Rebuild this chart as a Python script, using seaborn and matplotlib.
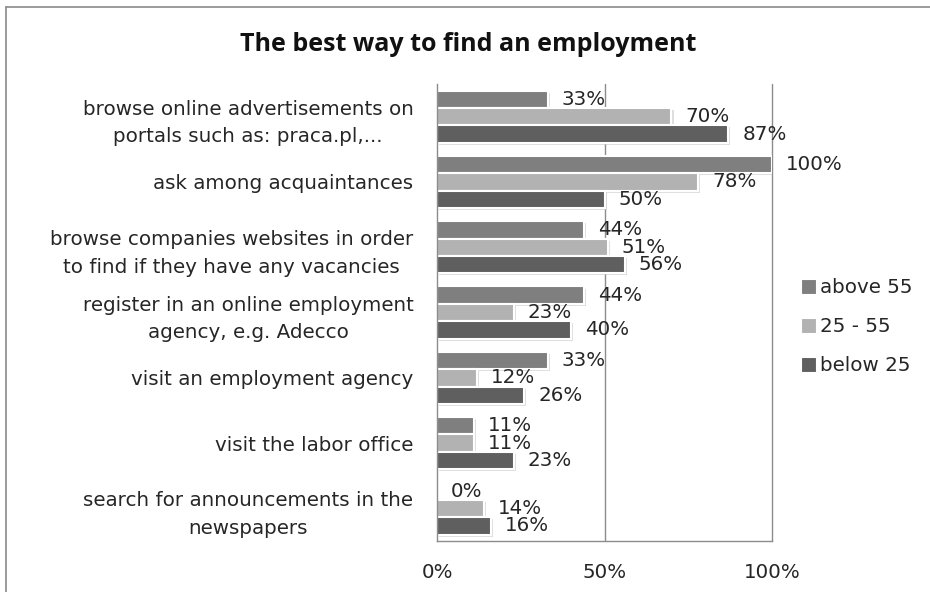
import matplotlib
matplotlib.use("Agg")
import matplotlib.pyplot as plt
import matplotlib.patheffects as pe
from matplotlib.lines import Line2D
from matplotlib.patches import Patch
import seaborn as sns
import pandas as pd

categories = [
    "browse online advertisements on\nportals such as: praca.pl,...",
    "ask among acquaintances",
    "browse companies websites in order\nto find if they have any vacancies",
    "register in an online employment\nagency, e.g. Adecco",
    "visit an employment agency",
    "visit the labor office",
    "search for announcements in the\nnewspapers",
]
groups = ["above 55", "25 - 55", "below 25"]
above_55 = [33, 100, 44, 44, 33, 11, 0]
age_25_55 = [70, 78, 51, 23, 12, 11, 14]
below_25 = [87, 50, 56, 40, 26, 23, 16]
x_ticks = [0, 50, 100]
x_tick_labels = ["0%", "50%", "100%"]

colors = {"above 55": "#7f7f7f", "25 - 55": "#b2b2b2", "below 25": "#5f5f5f"}

rows = []
for cat, a, m, b in zip(categories, above_55, age_25_55, below_25):
    rows.append((cat, "above 55", a))
    rows.append((cat, "25 - 55", m))
    rows.append((cat, "below 25", b))
df = pd.DataFrame(rows, columns=["way", "group", "value"])

sns.set_theme(style="white")
plt.rcParams["font.family"] = ["DejaVu Sans"]
text_color = "#262626"
fs = 14.3

fig = plt.figure(figsize=(9.3, 5.92), dpi=100)
ax = fig.add_axes([0.470, 0.086, 0.360, 0.772])

sns.barplot(
    data=df, y="way", x="value", hue="group", order=categories,
    hue_order=groups, palette=colors, orient="h", width=0.8,
    edgecolor="white", linewidth=1.5, ax=ax, legend=False,
)

shadow = [pe.SimplePatchShadow(offset=(1.5, -1.5), shadow_rgbFace="#c8c8c8", alpha=0.6),
          pe.Normal()]
for container in ax.containers:
    for bar in container:
        bar.set_path_effects(shadow)
    vals = [bar.get_width() for bar in container]
    ax.bar_label(container, labels=[f"{v:.0f}%" for v in vals], padding=10,
                 fontsize=fs, color=text_color)

ax.set_xlim(0, 100)
ax.set_xticks(x_ticks)
ax.set_xticklabels(x_tick_labels, fontsize=fs, color=text_color)
ax.tick_params(axis="x", length=0, pad=16)
ax.tick_params(axis="y", length=0, pad=17)
for lbl in ax.get_yticklabels():
    lbl.set_fontsize(fs)
    lbl.set_color(text_color)
    lbl.set_multialignment("center")
    lbl.set_linespacing(1.55)
ax.set_xlabel("")
ax.set_ylabel("")

for x in [50, 100]:
    ax.axvline(x, color="#8c8c8c", linewidth=1.0, zorder=0, clip_on=False)
for side in ["top", "right"]:
    ax.spines[side].set_visible(False)
for side in ["left", "bottom"]:
    ax.spines[side].set_color("#8c8c8c")
    ax.spines[side].set_linewidth(1.0)

handles = [Patch(facecolor=colors[g], edgecolor="white", linewidth=0.8) for g in groups]
leg = fig.legend(handles, groups, loc="upper left", bbox_to_anchor=(0.853, 0.543),
                 frameon=False, fontsize=fs, handlelength=0.75, handleheight=0.75,
                 handletextpad=0.2, labelspacing=1.0, borderaxespad=0)
for t in leg.get_texts():
    t.set_color(text_color)

fig.suptitle("The best way to find an employment", x=0.503, y=0.924,
             fontsize=18, fontweight="bold", color="#111111", va="center",
             family="Open Sans")

# chart frame (left and top edges)
fig.add_artist(Line2D([0.0065, 0.0065], [0.0, 0.988], transform=fig.transFigure,
                      color="#8a8a8a", linewidth=1.2))
fig.add_artist(Line2D([0.0065, 1.0], [0.988, 0.988], transform=fig.transFigure,
                      color="#8a8a8a", linewidth=1.2))

fig.savefig("out.png", dpi=100, facecolor="white")
